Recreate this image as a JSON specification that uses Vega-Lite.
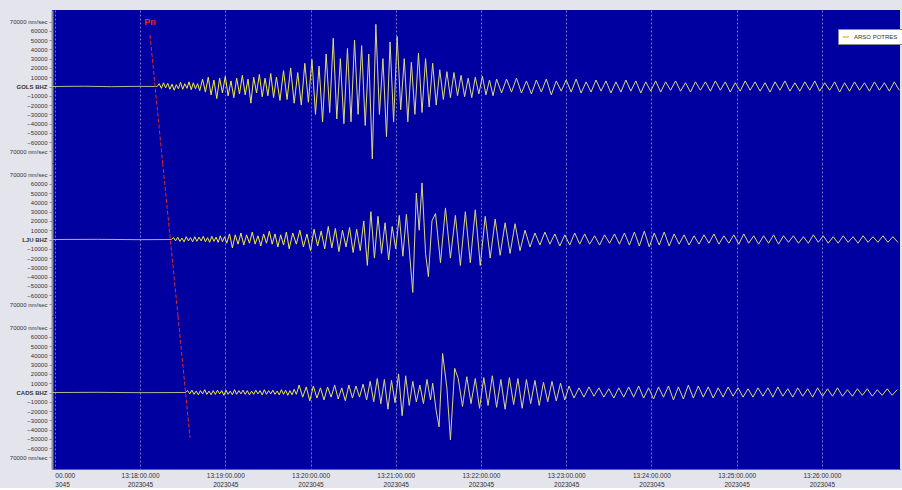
{
  "$schema": "https://vega.github.io/schema/vega-lite/v6.json",
  "background": "#e4e4ec",
  "padding": {"left": 2, "top": 10, "right": 2, "bottom": 0},
  "spacing": 0,
  "bounds": "flush",
  "config": {
    "font": "Liberation Sans",
    "view": {"fill": "#0000a0", "stroke": null},
    "axisX": {"grid": true, "gridColor": "#8a8ad0", "gridDash": [2, 2], "gridWidth": 1, "gridOpacity": 0.85, "ticks": false, "tickCount": 30},
    "axisY": {"grid": false, "domainColor": "#8c8c94", "domainWidth": 2, "tickColor": "#8c8c94", "tickSize": 3, "tickCount": 30, "labelFontSize": 6, "labelColor": "#333", "minExtent": 50, "maxExtent": 50, "labelPadding": 2, "labelOverlap": false, "labelBound": false, "labelFlush": false}
  },
  "datasets": {
    "gols": [
      {"t":-2,"v":0},{"t":20,"v":300},{"t":40,"v":-200},{"t":60,"v":200},{"t":72,"v":0},
      {"t":73.5,"v":3000},{"t":75,"v":-2000},{"t":76.5,"v":4000},{"t":78,"v":-1500},{"t":79.5,"v":3500},{"t":81,"v":-3000},{"t":82.5,"v":2500},{"t":84,"v":-4000},{"t":85.5,"v":2000},{"t":87,"v":-2500},{"t":88.5,"v":4500},{"t":90,"v":-3000},{"t":91.5,"v":3000},{"t":93,"v":-2000},{"t":94.5,"v":5000},{"t":96,"v":-3500},{"t":97.5,"v":4000},{"t":99,"v":-2500},{"t":100.5,"v":3000},{"t":102,"v":-4500},
      {"t":104,"v":8000},{"t":106,"v":-6000},{"t":108,"v":10000},{"t":110,"v":-9000},{"t":112,"v":7000},{"t":114,"v":-13000},{"t":116,"v":9000},{"t":118,"v":-7000},{"t":120,"v":11000},{"t":122,"v":-10000},{"t":124,"v":6000},{"t":126,"v":-12000},{"t":128,"v":9000},{"t":130,"v":-8000},{"t":132,"v":12000},{"t":134,"v":-9000},{"t":136,"v":8000},{"t":138,"v":-18000},{"t":140,"v":10000},{"t":142,"v":-7000},{"t":144,"v":13000},{"t":146,"v":-11000},{"t":148,"v":9000},{"t":150,"v":-10000},{"t":152,"v":14000},{"t":154,"v":-12000},{"t":156,"v":10000},
      {"t":158.5,"v":-15000},{"t":161,"v":17000},{"t":163.5,"v":-14000},{"t":166,"v":20000},{"t":168.5,"v":-18000},{"t":171,"v":15000},{"t":173.5,"v":-20000},{"t":176,"v":25000},{"t":178.5,"v":-17000},
      {"t":181,"v":29000},{"t":183.5,"v":-30000},{"t":186,"v":22000},{"t":188.5,"v":-38000},{"t":191,"v":35000},{"t":193.5,"v":-28000},{"t":196,"v":52000},{"t":198.5,"v":-35000},
      {"t":201,"v":30000},{"t":203.5,"v":-40000},{"t":206,"v":41000},{"t":208.5,"v":-38000},{"t":211,"v":50000},{"t":213.5,"v":-30000},{"t":216,"v":44000},{"t":218.5,"v":-42000},{"t":221,"v":35000},{"t":223.5,"v":-78000},{"t":226,"v":67000},{"t":228.5,"v":-30000},{"t":231,"v":30000},{"t":233.5,"v":-54000},
      {"t":236,"v":48000},{"t":238.5,"v":-38000},{"t":241,"v":54000},{"t":243.5,"v":-25000},{"t":246,"v":30000},{"t":248.5,"v":-38000},{"t":251,"v":26000},{"t":253.5,"v":-30000},{"t":256,"v":36000},{"t":258.5,"v":-28000},{"t":261,"v":30000},{"t":263.5,"v":-22000},{"t":266,"v":25000},
      {"t":268.5,"v":-20000},{"t":271,"v":18000},{"t":273.5,"v":-14000},{"t":276,"v":16000},{"t":278.5,"v":-12000},{"t":281,"v":15000},{"t":283.5,"v":-10000},{"t":286,"v":12000},{"t":288.5,"v":-11000},{"t":291,"v":9000},{"t":293.5,"v":-12000},{"t":296,"v":10000},{"t":298.5,"v":-8000},{"t":301,"v":11000},{"t":303.5,"v":-9000},{"t":306,"v":7000},{"t":308.5,"v":-10000},{"t":311,"v":8000},
      {"t":314.5,"v":-7000},{"t":318,"v":8000},{"t":321.5,"v":-6000},{"t":325,"v":9000},{"t":328.5,"v":-7000},{"t":332,"v":6000},{"t":335.5,"v":-8000},{"t":339,"v":7000},{"t":342.5,"v":-6000},{"t":346,"v":8000},{"t":349.5,"v":-9000},{"t":353,"v":6000},{"t":356.5,"v":-5000},{"t":360,"v":7000},{"t":363.5,"v":-6000},{"t":367,"v":8000},{"t":370.5,"v":-7000},{"t":374,"v":5000},{"t":377.5,"v":-6000},{"t":381,"v":7000},{"t":384.5,"v":-5000},{"t":388,"v":6000},{"t":391.5,"v":-7000},{"t":395,"v":5000},{"t":398.5,"v":-6000},{"t":402,"v":7000},{"t":405.5,"v":-5000},{"t":409,"v":6000},{"t":412.5,"v":-7000},{"t":416,"v":5000},{"t":419.5,"v":-5000},{"t":423,"v":6000},{"t":426.5,"v":-6000},{"t":430,"v":5000},{"t":433.5,"v":-4000},{"t":437,"v":6000},{"t":440.5,"v":-5000},{"t":444,"v":4000},{"t":447.5,"v":-6000},{"t":451,"v":5000},{"t":454.5,"v":-4000},{"t":458,"v":5000},{"t":461.5,"v":-5000},{"t":465,"v":6000},{"t":468.5,"v":-4000},{"t":472,"v":5000},{"t":475.5,"v":-6000},{"t":479,"v":4000},{"t":482.5,"v":-5000},{"t":486,"v":6000},{"t":489.5,"v":-4000},{"t":493,"v":5000},{"t":496.5,"v":-5000},{"t":500,"v":4000},{"t":503.5,"v":-6000},{"t":507,"v":5000},{"t":510.5,"v":-4000},{"t":514,"v":6000},{"t":517.5,"v":-5000},{"t":521,"v":4000},{"t":524.5,"v":-5000},{"t":528,"v":5000},{"t":531.5,"v":-4000},{"t":535,"v":6000},{"t":538.5,"v":-5000},{"t":542,"v":4000},{"t":545.5,"v":-4000},{"t":549,"v":5000},{"t":552.5,"v":-6000},{"t":556,"v":4000},{"t":559.5,"v":-5000},{"t":563,"v":5000},{"t":566.5,"v":-4000},{"t":570,"v":4000},{"t":573.5,"v":-5000},{"t":577,"v":5000},{"t":580.5,"v":-4000},{"t":584,"v":4000},{"t":587.5,"v":-5000},{"t":591,"v":5000},{"t":594.5,"v":-4000}
    ],
    "lju": [
      {"t":-2,"v":0},{"t":30,"v":200},{"t":60,"v":-200},{"t":82,"v":0},
      {"t":83.5,"v":2000},{"t":85,"v":-1500},{"t":86.5,"v":2500},{"t":88,"v":-2000},{"t":89.5,"v":1500},{"t":91,"v":-2500},{"t":92.5,"v":3000},{"t":94,"v":-1500},{"t":95.5,"v":2000},{"t":97,"v":-2500},{"t":98.5,"v":3000},{"t":100,"v":-2000},{"t":101.5,"v":2500},{"t":103,"v":-1500},{"t":104.5,"v":3500},{"t":106,"v":-2500},{"t":107.5,"v":2000},{"t":109,"v":-3000},{"t":110.5,"v":3500},{"t":112,"v":-2000},{"t":113.5,"v":2500},{"t":115,"v":-3000},{"t":116.5,"v":4000},{"t":118,"v":-2500},{"t":119.5,"v":3000},
      {"t":121,"v":-4000},{"t":123,"v":6000},{"t":125,"v":-9000},{"t":127,"v":5000},{"t":129,"v":-5000},{"t":131,"v":7000},{"t":133,"v":-6000},{"t":135,"v":5000},{"t":137,"v":-4000},{"t":139,"v":8000},{"t":141,"v":-5000},{"t":143,"v":4000},{"t":145,"v":-7000},{"t":147,"v":6000},{"t":149,"v":-4000},{"t":151,"v":9000},{"t":153,"v":-5000},{"t":155,"v":6000},{"t":157,"v":-8000},{"t":159,"v":5000},{"t":161,"v":-6000},{"t":163,"v":8000},{"t":165,"v":-10000},
      {"t":167.5,"v":7000},{"t":170,"v":-5000},{"t":172.5,"v":10000},{"t":175,"v":-8000},{"t":177.5,"v":6000},{"t":180,"v":-12000},{"t":182.5,"v":11000},{"t":185,"v":-7000},{"t":187.5,"v":9000},{"t":190,"v":-10000},{"t":192.5,"v":14000},{"t":195,"v":-9000},{"t":197.5,"v":12000},{"t":200,"v":-13000},{"t":202.5,"v":10000},{"t":205,"v":-8000},{"t":207.5,"v":13000},{"t":210,"v":-14000},{"t":212.5,"v":11000},{"t":215,"v":-12000},
      {"t":217.5,"v":20000},{"t":220,"v":-28000},{"t":222.5,"v":30000},{"t":225,"v":-20000},{"t":227.5,"v":25000},{"t":230,"v":-15000},{"t":232.5,"v":18000},{"t":235,"v":-22000},{"t":237.5,"v":14000},{"t":240,"v":-10000},{"t":242.5,"v":26000},{"t":245,"v":-18000},{"t":247.5,"v":27000},
      {"t":250,"v":-20000},{"t":252,"v":-57000},{"t":254.5,"v":50000},{"t":256.5,"v":10000},{"t":258.5,"v":61000},{"t":261,"v":-15000},{"t":263,"v":-40000},{"t":265.5,"v":20000},
      {"t":268,"v":28000},{"t":271.5,"v":-25000},{"t":275,"v":34000},{"t":278.5,"v":-20000},{"t":282,"v":26000},{"t":285.5,"v":-28000},{"t":289,"v":30000},{"t":292.5,"v":-25000},{"t":296,"v":32000},{"t":299.5,"v":-28000},{"t":303,"v":25000},{"t":306.5,"v":-20000},{"t":310,"v":22000},{"t":313.5,"v":-17000},{"t":317,"v":18000},{"t":320.5,"v":-15000},{"t":324,"v":17000},{"t":327.5,"v":-12000},
      {"t":331,"v":10000},{"t":334.5,"v":-8000},{"t":338,"v":7000},{"t":341.5,"v":-6000},{"t":345,"v":8000},{"t":348.5,"v":-5000},{"t":352,"v":6000},{"t":355.5,"v":-7000},{"t":359,"v":5000},{"t":362.5,"v":-6000},{"t":366,"v":7000},{"t":369.5,"v":-5000},{"t":373,"v":6000},{"t":376.5,"v":-5000},{"t":380,"v":4000},{"t":383.5,"v":-6000},{"t":387,"v":5000},{"t":390.5,"v":-4000},{"t":394,"v":6000},{"t":397.5,"v":-5000},{"t":401,"v":7000},{"t":404.5,"v":-6000},{"t":408,"v":8000},{"t":411.5,"v":-7000},{"t":415,"v":9000},{"t":418.5,"v":-8000},{"t":422,"v":7000},{"t":425.5,"v":-6000},{"t":429,"v":8000},{"t":432.5,"v":-7000},{"t":436,"v":6000},{"t":439.5,"v":-5000},{"t":443,"v":5000},{"t":446.5,"v":-6000},{"t":450,"v":4000},{"t":453.5,"v":-5000},{"t":457,"v":5000},{"t":460.5,"v":-4000},{"t":464,"v":6000},{"t":467.5,"v":-5000},{"t":471,"v":4000},{"t":474.5,"v":-4000},{"t":478,"v":5000},{"t":481.5,"v":-5000},{"t":485,"v":6000},{"t":488.5,"v":-4000},{"t":492,"v":4000},{"t":495.5,"v":-5000},{"t":499,"v":4000},{"t":502.5,"v":-4000},{"t":506,"v":5000},{"t":509.5,"v":-5000},{"t":513,"v":4000},{"t":516.5,"v":-3000},{"t":520,"v":4000},{"t":523.5,"v":-4000},{"t":527,"v":3000},{"t":530.5,"v":-4000},{"t":534,"v":5000},{"t":537.5,"v":-3000},{"t":541,"v":4000},{"t":544.5,"v":-4000},{"t":548,"v":3000},{"t":551.5,"v":-4000},{"t":555,"v":4000},{"t":558.5,"v":-3000},{"t":562,"v":3000},{"t":565.5,"v":-4000},{"t":569,"v":4000},{"t":572.5,"v":-3000},{"t":576,"v":3000},{"t":579.5,"v":-3000},{"t":583,"v":4000},{"t":586.5,"v":-3000},{"t":590,"v":3000},{"t":593.5,"v":-3000}
    ],
    "cads": [
      {"t":-2,"v":0},{"t":30,"v":200},{"t":60,"v":-200},{"t":92,"v":0},
      {"t":93.5,"v":2000},{"t":95,"v":-1500},{"t":96.5,"v":2500},{"t":98,"v":-2000},{"t":99.5,"v":1500},{"t":101,"v":-2500},{"t":102.5,"v":2000},{"t":104,"v":-1500},{"t":105.5,"v":3000},{"t":107,"v":-2000},{"t":108.5,"v":1500},{"t":110,"v":-2500},{"t":111.5,"v":2000},{"t":113,"v":-2000},{"t":114.5,"v":2500},{"t":116,"v":-1500},{"t":117.5,"v":2000},{"t":119,"v":-3000},{"t":120.5,"v":2500},{"t":122,"v":-2000},{"t":123.5,"v":1500},{"t":125,"v":-2500},{"t":126.5,"v":3000},{"t":128,"v":-2000},{"t":129.5,"v":2000},{"t":131,"v":-1500},{"t":132.5,"v":2500},{"t":134,"v":-2000},{"t":135.5,"v":2000},{"t":137,"v":-2500},{"t":138.5,"v":1500},{"t":140,"v":-2000},{"t":141.5,"v":2500},{"t":143,"v":-1500},{"t":144.5,"v":2000},{"t":146,"v":-2500},{"t":147.5,"v":3000},{"t":149,"v":-2000},{"t":150.5,"v":2000},{"t":152,"v":-1500},{"t":153.5,"v":2500},{"t":155,"v":-2000},{"t":156.5,"v":1500},{"t":158,"v":-2500},{"t":159.5,"v":3000},{"t":161,"v":-2000},{"t":162.5,"v":2500},{"t":164,"v":-3000},{"t":165.5,"v":2000},{"t":167,"v":-2500},{"t":168.5,"v":3500},{"t":170,"v":-2000},
      {"t":172,"v":8000},{"t":174.5,"v":-5000},{"t":177,"v":6000},{"t":179.5,"v":-9000},{"t":182,"v":7000},{"t":184.5,"v":-6000},{"t":187,"v":5000},{"t":189.5,"v":-8000},{"t":192,"v":6000},{"t":194.5,"v":-5000},{"t":197,"v":8000},{"t":199.5,"v":-7000},{"t":202,"v":5000},{"t":204.5,"v":-9000},{"t":207,"v":8000},{"t":209.5,"v":-6000},{"t":212,"v":7000},{"t":214.5,"v":-5000},{"t":217,"v":9000},{"t":219.5,"v":-8000},
      {"t":222,"v":12000},{"t":224.5,"v":-10000},{"t":227,"v":15000},{"t":229.5,"v":-12000},{"t":232,"v":14000},{"t":234.5,"v":-18000},{"t":237,"v":13000},{"t":239.5,"v":-11000},{"t":242,"v":20000},{"t":244.5,"v":-25000},{"t":247,"v":18000},{"t":249.5,"v":-14000},{"t":252,"v":12000},{"t":254.5,"v":-10000},{"t":257,"v":8000},{"t":259.5,"v":-12000},{"t":262,"v":14000},{"t":264.5,"v":-8000},
      {"t":266,"v":10000},{"t":268.5,"v":-20000},{"t":270.5,"v":-37000},{"t":273,"v":42000},{"t":276,"v":5000},{"t":278.5,"v":-51000},{"t":281.5,"v":26000},{"t":284,"v":15000},
      {"t":287,"v":-15000},{"t":290,"v":17000},{"t":293,"v":-12000},{"t":296,"v":15000},{"t":299,"v":-17000},{"t":302,"v":16000},{"t":305,"v":-14000},{"t":308,"v":18000},{"t":311,"v":-16000},{"t":314,"v":14000},{"t":317,"v":-18000},{"t":320,"v":16000},{"t":323,"v":-13000},{"t":326,"v":15000},{"t":329,"v":-17000},{"t":332,"v":14000},{"t":335,"v":-12000},{"t":338,"v":13000},{"t":341,"v":-14000},{"t":344,"v":11000},{"t":347,"v":-10000},{"t":350,"v":12000},{"t":353,"v":-9000},{"t":356,"v":10000},{"t":359,"v":-8000},{"t":362,"v":7000},
      {"t":365.5,"v":-6000},{"t":369,"v":5000},{"t":372.5,"v":-5000},{"t":376,"v":6000},{"t":379.5,"v":-4000},{"t":383,"v":5000},{"t":386.5,"v":-5000},{"t":390,"v":4000},{"t":393.5,"v":-6000},{"t":397,"v":5000},{"t":400.5,"v":-5000},{"t":404,"v":6000},{"t":407.5,"v":-5000},{"t":411,"v":7000},{"t":414.5,"v":-6000},{"t":418,"v":5000},{"t":421.5,"v":-7000},{"t":425,"v":6000},{"t":428.5,"v":-5000},{"t":432,"v":7000},{"t":435.5,"v":-8000},{"t":439,"v":6000},{"t":442.5,"v":-7000},{"t":446,"v":8000},{"t":449.5,"v":-6000},{"t":453,"v":7000},{"t":456.5,"v":-5000},{"t":460,"v":6000},{"t":463.5,"v":-6000},{"t":467,"v":5000},{"t":470.5,"v":-5000},{"t":474,"v":6000},{"t":477.5,"v":-4000},{"t":481,"v":5000},{"t":484.5,"v":-5000},{"t":488,"v":4000},{"t":491.5,"v":-5000},{"t":495,"v":5000},{"t":498.5,"v":-4000},{"t":502,"v":5000},{"t":505.5,"v":-5000},{"t":509,"v":6000},{"t":512.5,"v":-4000},{"t":516,"v":4000},{"t":519.5,"v":-5000},{"t":523,"v":5000},{"t":526.5,"v":-4000},{"t":530,"v":4000},{"t":533.5,"v":-5000},{"t":537,"v":5000},{"t":540.5,"v":-4000},{"t":544,"v":4000},{"t":547.5,"v":-4000},{"t":551,"v":5000},{"t":554.5,"v":-4000},{"t":558,"v":3000},{"t":561.5,"v":-4000},{"t":565,"v":4000},{"t":568.5,"v":-3000},{"t":572,"v":4000},{"t":575.5,"v":-4000},{"t":579,"v":3000},{"t":582.5,"v":-3000},{"t":586,"v":4000},{"t":589.5,"v":-3000},{"t":593,"v":3000}
    ]
  },
  "vconcat": [
    {
      "width": 848, "height": 153,
      "layer": [
        {
          "data": {"name": "gols"},
          "mark": {"type": "line", "strokeWidth": 1, "clip": true,
                   "stroke": {"gradient": "linear", "x1": 0, "x2": 1, "y1": 0, "y2": 0,
                              "stops": [{"offset": 0, "color": "#b8b890"}, {"offset": 0.123, "color": "#b8b890"}, {"offset": 0.126, "color": "#f4f030"}, {"offset": 0.27, "color": "#f0ec3c"}, {"offset": 0.36, "color": "#dcd884"}, {"offset": 1, "color": "#dcd884"}]}},
          "encoding": {
            "x": {"field": "t", "type": "quantitative", "scale": {"domain": [-2, 595], "nice": false, "zero": false},
                  "axis": {"values": [0,60,120,180,240,300,360,420,480,540], "labels": false, "domain": false, "title": null, "minExtent": 0, "maxExtent": 0, "labelPadding": 0}},
            "y": {"field": "v", "type": "quantitative", "scale": {"domain": [-82400, 82400], "nice": false},
                  "axis": {"title": null, "labelOverlap": false, "tickCount": 30, "values": [-70000,-60000,-50000,-40000,-30000,-20000,-10000,0,10000,20000,30000,40000,50000,60000,70000],
                           "labelExpr": "datum.value == 0 ? 'GOLS BHZ' : (abs(datum.value) == 70000 ? '70000 nm/sec' : format(datum.value, 'd'))",
                           "labelFontWeight": {"condition": {"test": "datum.value == 0", "value": "bold"}, "value": "normal"}}}
          }
        },
        {
          "data": {"name": "gols"},
          "mark": {"type": "line", "strokeWidth": 1, "strokeOpacity": 0, "clip": true},
          "encoding": {
            "x": {"field": "t", "type": "quantitative"},
            "y": {"field": "v", "type": "quantitative"},
            "color": {"datum": "ARSO POTRES", "type": "nominal", "scale": {"range": ["#d8c83a"]},
                      "legend": {"title": null, "orient": "none", "legendX": 786, "legendY": 19, "fillColor": "white", "strokeColor": "#888", "padding": 4, "labelFontSize": 6, "labelColor": "#333", "symbolType": "stroke", "symbolStrokeWidth": 1.5, "symbolSize": 40, "symbolOpacity": 1}}
          }
        },
        {
          "data": {"values": [{"t1": 67.0, "v1": 55500, "t2": 75.9, "v2": -82400}]},
          "mark": {"type": "rule", "color": "#e02828", "strokeWidth": 1, "strokeDash": [4, 2]},
          "encoding": {
            "x": {"field": "t1", "type": "quantitative"}, "x2": {"field": "t2"},
            "y": {"field": "v1", "type": "quantitative"}, "y2": {"field": "v2"}
          }
        },
        {
          "data": {"values": [{"t": 67.0, "v": 69500, "label": "Pn"}]},
          "mark": {"type": "text", "color": "#e02828", "fontSize": 9, "fontWeight": "bold", "align": "center", "baseline": "middle"},
          "encoding": {
            "x": {"field": "t", "type": "quantitative"},
            "y": {"field": "v", "type": "quantitative"},
            "text": {"field": "label"}
          }
        }
      ]
    },
    {
      "width": 848, "height": 153,
      "layer": [
        {
          "data": {"name": "lju"},
          "mark": {"type": "line", "strokeWidth": 1, "clip": true,
                   "stroke": {"gradient": "linear", "x1": 0, "x2": 1, "y1": 0, "y2": 0,
                              "stops": [{"offset": 0, "color": "#b8b890"}, {"offset": 0.14, "color": "#b8b890"}, {"offset": 0.143, "color": "#f4f030"}, {"offset": 0.3, "color": "#f0ec3c"}, {"offset": 0.4, "color": "#dcd884"}, {"offset": 1, "color": "#dcd884"}]}},
          "encoding": {
            "x": {"field": "t", "type": "quantitative", "scale": {"domain": [-2, 595], "nice": false, "zero": false},
                  "axis": {"values": [0,60,120,180,240,300,360,420,480,540], "labels": false, "domain": false, "title": null, "minExtent": 0, "maxExtent": 0, "labelPadding": 0}},
            "y": {"field": "v", "type": "quantitative", "scale": {"domain": [-82400, 82400], "nice": false},
                  "axis": {"title": null, "labelOverlap": false, "tickCount": 30, "values": [-70000,-60000,-50000,-40000,-30000,-20000,-10000,0,10000,20000,30000,40000,50000,60000,70000],
                           "labelExpr": "datum.value == 0 ? 'LJU BHZ' : (abs(datum.value) == 70000 ? '70000 nm/sec' : format(datum.value, 'd'))",
                           "labelFontWeight": {"condition": {"test": "datum.value == 0", "value": "bold"}, "value": "normal"}}}
          }
        },
        {
          "data": {"values": [{"t1": 75.9, "v1": 82400, "t2": 86.7, "v2": -82400}]},
          "mark": {"type": "rule", "color": "#e02828", "strokeWidth": 1, "strokeDash": [4, 2]},
          "encoding": {
            "x": {"field": "t1", "type": "quantitative"}, "x2": {"field": "t2"},
            "y": {"field": "v1", "type": "quantitative"}, "y2": {"field": "v2"}
          }
        }
      ]
    },
    {
      "width": 848, "height": 153,
      "layer": [
        {
          "data": {"name": "cads"},
          "mark": {"type": "line", "strokeWidth": 1, "clip": true,
                   "stroke": {"gradient": "linear", "x1": 0, "x2": 1, "y1": 0, "y2": 0,
                              "stops": [{"offset": 0, "color": "#b8b890"}, {"offset": 0.157, "color": "#b8b890"}, {"offset": 0.16, "color": "#f4f030"}, {"offset": 0.3, "color": "#f0ec3c"}, {"offset": 0.4, "color": "#dcd884"}, {"offset": 1, "color": "#dcd884"}]}},
          "encoding": {
            "x": {"field": "t", "type": "quantitative", "scale": {"domain": [-2, 595], "nice": false, "zero": false},
                  "axis": {"values": [0,60,120,180,240,300,360,420,480,540], "title": null, "domainColor": "#5a5ad0", "domainWidth": 1,
                           "labelFontSize": 6.5, "labelColor": "#333", "labelPadding": 3, "labelLineHeight": 9, "labelBaseline": "top",
                           "labelExpr": "datum.value == 0 ? ['00.000', '3045'] : ['13:' + (17 + datum.value / 60) + ':00.000', '2023045']",
                           "labelAlign": {"condition": {"test": "datum.value == 0", "value": "left"}, "value": "center"}}},
            "y": {"field": "v", "type": "quantitative", "scale": {"domain": [-82400, 82400], "nice": false},
                  "axis": {"title": null, "labelOverlap": false, "tickCount": 30, "values": [-70000,-60000,-50000,-40000,-30000,-20000,-10000,0,10000,20000,30000,40000,50000,60000,70000],
                           "labelExpr": "datum.value == 0 ? 'CADS BHZ' : (abs(datum.value) == 70000 ? '70000 nm/sec' : format(datum.value, 'd'))",
                           "labelFontWeight": {"condition": {"test": "datum.value == 0", "value": "bold"}, "value": "normal"}}}
          }
        },
        {
          "data": {"values": [{"t1": 86.7, "v1": 82400, "t2": 95.2, "v2": -49000}]},
          "mark": {"type": "rule", "color": "#e02828", "strokeWidth": 1, "strokeDash": [4, 2]},
          "encoding": {
            "x": {"field": "t1", "type": "quantitative"}, "x2": {"field": "t2"},
            "y": {"field": "v1", "type": "quantitative"}, "y2": {"field": "v2"}
          }
        }
      ]
    }
  ]
}
